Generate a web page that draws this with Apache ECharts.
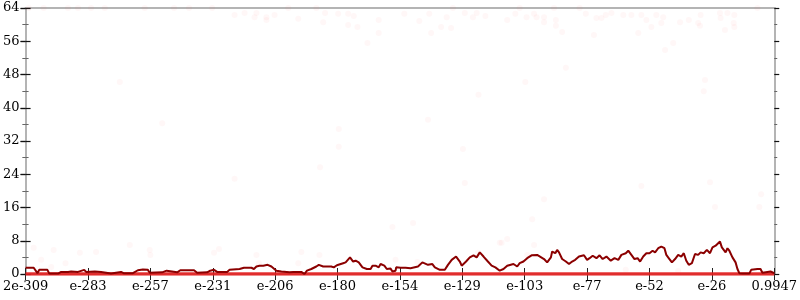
<!DOCTYPE html>
<html>
<head>
<meta charset="utf-8">
<script src="https://cdn.jsdelivr.net/npm/echarts@6/dist/echarts.min.js"></script>
<style>html,body{margin:0;padding:0;background:#fff}#c{width:800px;height:300px}</style>
</head>
<body>
<div id="c"></div>
<script>
// x tick labels (one per unit on the x axis, 0..12)
var xLabels = ["2e-309","e-283","e-257","e-231","e-206","e-180","e-154","e-129","e-103","e-77","e-52","e-26","0.9947"];
// main dark-red series: x positions (axis units) and values
var lineX = [0,0.13,0.19,0.22,0.35,0.38,0.52,0.57,0.68,0.73,0.76,0.84,0.94,0.97,1.11,1.21,1.24,1.37,1.40,1.53,1.57,1.72,1.80,1.88,1.96,1.99,2.19,2.26,2.29,2.43,2.48,2.70,2.75,2.91,2.96,3.02,3.07,3.23,3.27,3.43,3.46,3.50,3.62,3.66,3.70,3.75,3.81,3.88,3.94,3.97,4.02,4.10,4.23,4.26,4.29,4.42,4.47,4.51,4.58,4.66,4.70,4.77,4.90,4.94,4.99,5.02,5.09,5.13,5.20,5.25,5.29,5.34,5.40,5.47,5.53,5.56,5.61,5.66,5.69,5.75,5.79,5.85,5.88,5.93,5.94,6.01,6.09,6.17,6.20,6.29,6.36,6.45,6.52,6.56,6.64,6.72,6.77,6.83,6.90,6.96,6.99,7.06,7.12,7.18,7.23,7.28,7.34,7.41,7.47,7.53,7.60,7.66,7.72,7.82,7.88,7.92,7.98,8.04,8.11,8.20,8.23,8.31,8.36,8.42,8.44,8.49,8.52,8.55,8.60,8.66,8.71,8.76,8.81,8.87,8.90,8.95,9.00,9.04,9.09,9.15,9.20,9.25,9.31,9.38,9.44,9.50,9.55,9.62,9.66,9.71,9.76,9.81,9.85,9.90,9.95,10.00,10.05,10.09,10.14,10.19,10.24,10.27,10.32,10.36,10.41,10.46,10.51,10.55,10.59,10.63,10.68,10.73,10.78,10.82,10.87,10.92,10.97,11.01,11.06,11.09,11.13,11.16,11.19,11.22,11.25,11.28,11.33,11.38,11.41,11.44,11.49,11.60,11.63,11.73,11.78,11.81,11.89,11.94,12.00];
var lineY = [1.5,1.5,0.2,1.0,1.0,0.1,0.1,0.5,0.5,0.6,0.4,0.5,1.0,0.5,0.6,0.5,0.2,0.1,0.5,0.5,0.2,0.2,0.9,1.1,1.0,0.3,0.4,0.8,0.4,0.4,0.9,0.9,0.3,0.4,0.8,1.0,0.5,0.5,1.0,1.2,1.0,1.5,1.5,1.2,1.8,2.0,2.0,2.2,1.8,1.5,0.8,0.6,0.4,0.8,0.5,0.5,0.0,0.8,1.2,1.8,2.2,1.8,1.8,1.6,2.1,2.2,2.6,2.8,4.0,3.0,3.2,2.8,1.6,1.2,1.2,2.0,2.0,1.6,2.4,2.0,1.2,1.3,0.6,0.8,1.6,1.5,1.5,1.4,1.8,1.8,2.8,2.2,2.4,1.6,1.0,1.0,2.2,3.4,4.2,3.0,2.0,3.0,4.0,4.5,4.0,5.2,4.2,3.0,2.0,1.6,0.8,1.2,2.0,2.4,1.8,2.6,3.0,3.8,4.5,4.6,4.8,3.6,2.8,4.0,5.4,5.0,5.8,5.2,3.6,3.0,2.4,3.0,3.4,4.2,3.8,4.5,3.4,3.8,4.4,3.8,4.5,3.6,4.2,3.2,3.8,3.4,4.6,5.0,5.6,4.6,3.6,3.8,3.0,4.2,5.0,5.0,5.6,5.2,6.2,6.6,6.2,4.6,3.6,2.8,3.6,4.6,4.2,5.0,3.2,2.2,2.6,4.8,4.6,5.2,5.0,5.8,5.0,6.4,6.8,7.2,7.8,6.4,6.0,5.2,6.2,5.6,4.0,2.8,1.2,0.2,0.1,0.1,1.0,1.2,1.2,0.3,0.5,0.6,0.2];
// zero baseline series
var zeroX = [0, 12];
var zeroY = [0, 0];
// faint scattered samples
var dotX = [0.05,0.29,0.68,0.84,1.05,1.27,1.91,2.38,2.62,2.99,4.21,4.66,6.85,7.92,8.47,8.88,11.73,
  1.51,3.35,3.51,3.67,3.70,3.86,3.86,3.99,4.37,4.77,4.80,5.01,5.17,5.17,5.26,5.32,5.48,5.66,5.66,6.07,6.31,6.47,6.50,6.66,6.75,6.82,7.04,7.17,7.23,7.26,7.37,7.72,7.85,8.01,8.03,8.15,8.19,8.31,8.31,8.50,8.50,8.60,8.66,8.98,9.11,9.15,9.23,9.30,9.39,9.58,9.71,9.82,9.87,9.95,10.03,10.11,10.22,10.19,10.38,10.25,10.49,10.63,10.78,10.81,10.82,10.89,10.87,11.14,11.13,11.21,11.25,11.36,11.35,11.36,
  2.19,3.35,4.72,5.02,5.02,6.45,7.01,7.04,8.31,9.87,10.97,11.79,11.05,11.76,
  0.13,0.25,0.45,0.64,0.87,1.13,1.67,1.99,2.00,3.02,3.10,3.70,3.74,4.42,4.37,4.71,5.88,6.21,5.93,6.28,7.25,7.63,7.72,8.12,8.04,9.62,10.46,7.60,8.15,0.41];
var dotY = [64,64,64,64,64,64,64,64,64,64,64,64,64,64,64,64,64,
  46.2,62.3,62.8,61.8,62.8,61.1,61.8,62.3,61.4,60.6,62.8,62.6,62.6,59.9,62.1,59.4,55.6,61.1,58.0,62.6,60.9,62.6,58.0,59.4,61.8,59.2,62.8,61.8,62.8,43.1,62.1,61.1,62.6,46.2,61.8,62.6,61.8,60.6,61.8,59.7,61.1,58.2,49.6,62.6,57.5,61.6,61.6,62.3,62.8,62.3,62.3,58.0,62.3,61.1,59.4,62.3,61.8,60.4,55.6,53.9,60.6,61.1,60.4,59.7,62.3,46.7,44.0,61.6,62.8,58.7,62.8,62.3,60.4,59.4,
  36.3,22.9,25.7,34.9,30.6,37.1,30.1,21.9,18.0,21.2,22.1,19.2,16.1,16.1,
  6.3,3.4,5.8,2.6,5.1,5.3,7.0,5.8,4.6,5.1,6.0,4.6,2.6,5.3,2.6,4.6,11.3,12.3,3.4,2.9,5.1,7.5,8.4,13.2,4.6,1.0,0.7,7.5,7.0,1.7];

function zip(a, b) { return a.map(function (v, i) { return [v, b[i]]; }); }

var font = "DejaVu Serif";
var gray = "#b4b4b4";
function xAx(opts) {
  return Object.assign({
    type: "value", min: 0, max: 12, interval: 1,
    axisLine: { show: false }, splitLine: { show: false },
    axisLabel: { show: false }, axisTick: { show: false }
  }, opts);
}
function yAx(opts) {
  return Object.assign({
    type: "value", min: 0, max: 64, interval: 8,
    axisLine: { show: false }, splitLine: { show: false },
    axisLabel: { show: false }, axisTick: { show: false },
    minorTick: { show: false }
  }, opts);
}

var chart = echarts.init(document.getElementById("c"), null, { renderer: "canvas" });
chart.setOption({
  animation: false,
  backgroundColor: "#fff",
  grid: { left: 22, right: 23, top: 8, bottom: 26, containLabel: false },
  xAxis: [
    xAx({ position: "bottom",
      axisLine: { show: true, onZero: false, lineStyle: { color: gray, width: 2 } },
      axisTick: { show: true, inside: true, length: 6, lineStyle: { color: "#222", width: 1 } },
      axisLabel: { show: true, margin: 6, color: "#000", fontFamily: font, fontSize: 13,
        showMinLabel: true, showMaxLabel: true,
        formatter: function (v) { return xLabels[Math.round(v)] || ""; } } }),
    xAx({ position: "bottom",
      axisTick: { show: true, inside: false, length: 6, lineStyle: { color: "#222", width: 1 } } }),
    xAx({ position: "top",
      axisLine: { show: true, onZero: false, lineStyle: { color: gray, width: 2 } } })
  ],
  yAxis: [
    yAx({ position: "left",
      axisLine: { show: true, onZero: false, lineStyle: { color: gray, width: 2 } },
      axisTick: { show: true, inside: false, length: 5, lineStyle: { color: "#111", width: 1.2 } },
      minorTick: { show: true, splitNumber: 2, length: 3, lineStyle: { color: "#666", width: 1 } },
      axisLabel: { show: true, margin: 6, color: "#000", fontFamily: font, fontSize: 13 } }),
    yAx({ position: "left",
      axisTick: { show: true, inside: true, length: 5, lineStyle: { color: "#111", width: 1.2 } },
      minorTick: { show: true, splitNumber: 2, length: 3, lineStyle: { color: "#666", width: 1 } } }),
    yAx({ position: "right",
      axisLine: { show: true, onZero: false, lineStyle: { color: gray, width: 2 } },
      axisTick: { show: true, inside: false, length: 5, lineStyle: { color: "#111", width: 1.2 } },
      minorTick: { show: true, splitNumber: 2, length: 3, lineStyle: { color: "#666", width: 1 } } }),
    yAx({ position: "right",
      axisTick: { show: true, inside: true, length: 5, lineStyle: { color: "#111", width: 1.2 } },
      minorTick: { show: true, splitNumber: 2, length: 3, lineStyle: { color: "#666", width: 1 } } })
  ],
  series: [
    { type: "scatter", xAxisIndex: 0, yAxisIndex: 0, data: zip(dotX, dotY), symbol: "circle", symbolSize: 6,
      itemStyle: { color: "rgba(245,90,90,0.06)" }, silent: true, z: 1 },
    { type: "line", xAxisIndex: 0, yAxisIndex: 0, data: zip(zeroX, zeroY), showSymbol: false,
      lineStyle: { color: "rgba(228,30,30,0.9)", width: 3.5 }, silent: true, z: 2 },
    { type: "line", xAxisIndex: 0, yAxisIndex: 0, data: zip(lineX, lineY), showSymbol: false,
      lineStyle: { color: "#8b0000", width: 2 }, silent: true, z: 3 }
  ]
});
</script>
</body>
</html>
